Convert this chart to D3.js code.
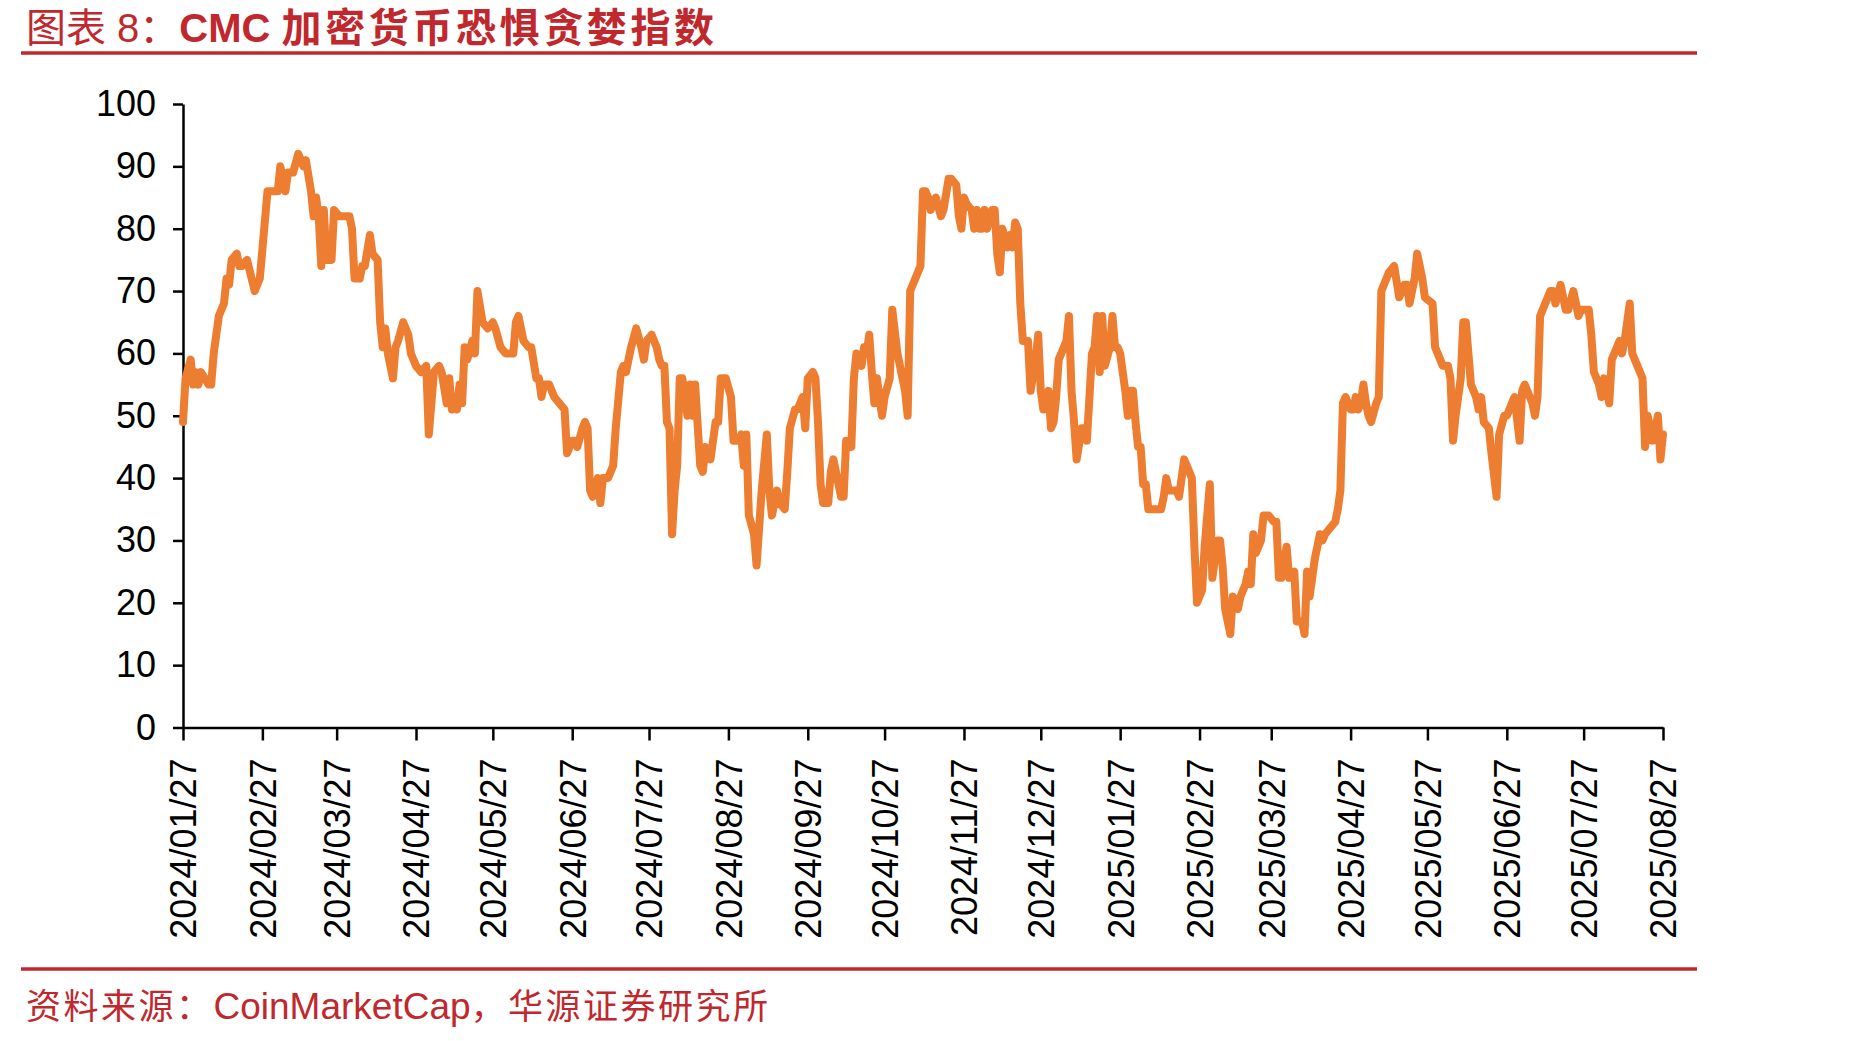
<!DOCTYPE html>
<html>
<head>
<meta charset="utf-8">
<script src="https://cdn.jsdelivr.net/npm/d3@7"></script>
<style>
  body { margin: 0; background: #fff; }
  svg { display: block; }
</style>
</head>
<body>
<div class="chart"></div>
<script>
// x-axis tick labels (every 27th of the month)
const tickLabels = ["2024/01/27","2024/02/27","2024/03/27","2024/04/27","2024/05/27","2024/06/27",
  "2024/07/27","2024/08/27","2024/09/27","2024/10/27","2024/11/27","2024/12/27","2025/01/27",
  "2025/02/27","2025/03/27","2025/04/27","2025/05/27","2025/06/27","2025/07/27","2025/08/27"];
const yTicks = [0, 10, 20, 30, 40, 50, 60, 70, 80, 90, 100];

// CMC fear & greed index: [month-day, value]
const fgi2024 = [
  ["01-27",49],["01-28",56],["01-30",59],["01-31",55],["02-01",57],["02-02",55],["02-03",57],["02-06",55],["02-07",55],["02-08",60],["02-10",66],["02-12",68],["02-13",72],["02-14",71],["02-15",75],["02-17",76],["02-18",74],["02-19",74],["02-21",75],["02-24",70],["02-26",72],["02-29",86],
  ["03-02",86],["03-04",86],["03-05",90],["03-07",86],["03-08",89],["03-10",89],["03-12",92],["03-14",90],["03-15",91],["03-17",86],["03-18",82],["03-19",85],["03-20",82],["03-21",74],["03-22",83],["03-23",75],["03-25",75],["03-26",83],["03-28",82],["03-30",82],
  ["04-01",82],["04-02",80],["04-03",72],["04-05",72],["04-06",74],["04-07",74],["04-09",79],["04-10",76],["04-12",75],["04-13",65],["04-14",61],["04-15",64],["04-16",60],["04-18",56],["04-19",61],["04-20",62],["04-22",65],["04-24",63],["04-25",60],["04-27",58],["04-29",57],
  ["05-01",58],["05-02",47],["05-04",57],["05-06",58],["05-07",57],["05-09",52],["05-10",56],["05-11",51],["05-12",53],["05-13",51],["05-14",55],["05-15",52],["05-16",61],["05-17",59],["05-19",62],["05-20",60],["05-21",70],["05-23",65],["05-25",64],["05-27",65],["05-28",64],["05-30",61],
  ["06-01",60],["06-02",60],["06-04",60],["06-05",65],["06-06",66],["06-08",62],["06-10",61],["06-11",61],["06-13",56],["06-14",56],["06-15",53],["06-16",55],["06-18",55],["06-20",53],["06-22",52],["06-24",51],["06-25",44],["06-27",46],["06-28",46],["06-29",45],
  ["07-01",48],["07-02",49],["07-03",48],["07-04",38],["07-05",37],["07-07",40],["07-08",36],["07-09",40],["07-11",40],["07-13",42],["07-14",48],["07-16",57],["07-17",58],["07-18",57],["07-20",61],["07-22",64],["07-24",61],["07-25",59],["07-26",62],["07-28",63],["07-30",61],["07-31",59],
  ["08-01",58],["08-02",58],["08-03",49],["08-04",48],["08-05",31],["08-06",38],["08-07",42],["08-08",56],["08-09",56],["08-11",50],["08-12",55],["08-13",50],["08-14",55],["08-16",42],["08-17",41],["08-18",45],["08-20",43],["08-21",46],["08-22",49],["08-23",49],["08-24",56],["08-26",56],["08-28",53],["08-29",46],["08-31",46],
  ["09-01",47],["09-02",42],["09-03",47],["09-04",34],["09-06",31],["09-07",26],["09-09",38],["09-11",47],["09-12",38],["09-13",34],["09-15",38],["09-16",36],["09-18",35],["09-19",41],["09-20",48],["09-22",51],["09-23",51],["09-25",53],["09-26",48],["09-27",56],["09-29",57],["09-30",56],
  ["10-01",49],["10-02",39],["10-03",36],["10-05",36],["10-06",41],["10-07",43],["10-08",41],["10-10",37],["10-11",37],["10-12",46],["10-14",45],["10-15",56],["10-16",60],["10-18",58],["10-19",61],["10-20",60],["10-21",63],["10-22",57],["10-23",52],["10-24",56],["10-26",50],["10-27",53],["10-29",56],["10-30",67],
  ["11-01",60],["11-02",58],["11-04",54],["11-05",50],["11-06",70],["11-08",72],["11-10",74],["11-11",86],["11-12",86],["11-13",85],["11-14",83],["11-16",85],["11-18",82],["11-19",83],["11-21",88],["11-22",88],["11-24",87],["11-25",82],["11-26",80],["11-27",85],["11-28",84],["11-30",83],
  ["12-01",80],["12-02",83],["12-03",80],["12-04",80],["12-05",83],["12-06",80],["12-08",83],["12-09",83],["12-10",76],["12-11",73],["12-12",80],["12-14",77],["12-15",79],["12-16",77],["12-17",81],["12-18",80],["12-19",68],["12-20",62],["12-22",62],["12-23",54],["12-25",59],["12-26",63],["12-27",54],["12-28",51],["12-30",54],["12-31",48]
];
const fgi2025 = [
  ["01-01",49],["01-02",53],["01-03",59],["01-05",61],["01-06",62],["01-07",66],["01-08",54],["01-09",49],["01-10",43],["01-12",48],["01-13",48],["01-14",46],["01-16",60],["01-17",61],["01-18",66],["01-19",57],["01-20",66],["01-21",58],["01-23",61],["01-24",66],["01-25",61],["01-26",61],["01-27",60],["01-29",54],["01-30",50],["01-31",54],
  ["02-01",54],["02-02",49],["02-03",45],["02-04",45],["02-05",39],["02-06",39],["02-07",35],["02-09",35],["02-11",35],["02-12",35],["02-13",37],["02-14",40],["02-15",38],["02-16",38],["02-18",38],["02-19",37],["02-21",43],["02-22",42],["02-24",40],["02-25",29],["02-26",20],["02-28",22],
  ["03-01",29],["03-03",39],["03-04",24],["03-06",30],["03-07",30],["03-08",26],["03-09",19],["03-10",17],["03-11",15],["03-12",21],["03-14",19],["03-15",21],["03-17",23],["03-18",25],["03-19",23],["03-20",31],["03-21",28],["03-23",30],["03-24",34],["03-26",34],["03-28",33],["03-29",33],["03-30",24],["03-31",24],
  ["04-02",29],["04-03",24],["04-05",25],["04-06",17],["04-08",17],["04-09",15],["04-10",25],["04-11",21],["04-13",27],["04-15",31],["04-16",30],["04-17",31],["04-19",32],["04-21",33],["04-22",35],["04-23",38],["04-24",52],["04-25",53],["04-27",51],["04-28",51],["04-29",53],["04-30",51],
  ["05-01",52],["05-02",55],["05-03",52],["05-04",50],["05-05",49],["05-07",52],["05-08",53],["05-09",70],["05-11",72],["05-12",73],["05-14",74],["05-16",69],["05-18",71],["05-19",71],["05-20",68],["05-22",72],["05-23",76],["05-25",72],["05-26",69],["05-29",68],["05-30",61],
  ["06-01",59],["06-02",58],["06-04",58],["06-05",56],["06-06",46],["06-07",50],["06-09",56],["06-10",65],["06-11",65],["06-12",60],["06-13",55],["06-15",53],["06-16",51],["06-17",53],["06-18",49],["06-20",48],["06-21",44],["06-23",37],["06-24",47],["06-26",50],["06-27",50],["06-29",52],["06-30",53],
  ["07-02",46],["07-03",54],["07-04",55],["07-05",54],["07-07",52],["07-08",50],["07-09",53],["07-10",66],["07-12",68],["07-14",70],["07-15",70],["07-16",68],["07-18",71],["07-19",69],["07-20",67],["07-21",67],["07-23",70],["07-25",66],["07-26",67],["07-29",67],["07-30",63],["07-31",57],
  ["08-02",55],["08-03",53],["08-04",56],["08-06",52],["08-07",59],["08-08",60],["08-10",62],["08-11",60],["08-12",62],["08-14",68],["08-15",60],["08-17",58],["08-19",56],["08-20",45],["08-21",50],["08-23",46],["08-25",50],["08-26",43],["08-27",47]
];

const RED = "#c0282e";
const ORANGE = "#ed7d31";
const FONT = "'Liberation Sans', Arial, sans-serif";
const MIXED = "'Liberation Sans', 'Noto Sans CJK SC', sans-serif";
const CJK = "'Noto Sans CJK SC', sans-serif";

const parse = d3.timeParse("%Y/%m/%d");
const series = fgi2024.map(d => ({ date: parse("2024/" + d[0].replace("-", "/")), value: d[1] }))
  .concat(fgi2025.map(d => ({ date: parse("2025/" + d[0].replace("-", "/")), value: d[1] })));
const tickDates = tickLabels.map(parse);

const width = 1852, height = 1041;
const margin = { top: 104, right: 189, bottom: 313.5, left: 183 };

const svg = d3.select('.chart')
  .append('svg')
  .attr('width', width)
  .attr('height', height);

// title
const title = svg.append('text')
  .attr('x', 26)
  .attr('y', 42)
  .style('font-family', MIXED)
  .style('font-size', '40px')
  .style('fill', RED);
title.append('tspan').text('图表 8：').style('font-weight', 400);
title.append('tspan').text('CMC ').style('font-weight', 700);
title.append('tspan').text('加密货币恐惧贪婪指数').style('font-weight', 700).attr('letter-spacing', 3.6);

// red rules
svg.append('line').attr('x1', 21).attr('x2', 1697).attr('y1', 53).attr('y2', 53)
  .attr('stroke', RED).attr('stroke-width', 3.5);
svg.append('line').attr('x1', 21).attr('x2', 1697).attr('y1', 969).attr('y2', 969)
  .attr('stroke', RED).attr('stroke-width', 3.5);

// source
const src = svg.append('text')
  .attr('x', 26)
  .attr('y', 1019)
  .style('font-family', CJK)
  .style('font-size', '35px')
  .style('fill', RED);
src.append('tspan').text('资料来源：').attr('letter-spacing', 2.5);
src.append('tspan').text('CoinMarketCap').style('font-family', FONT).style('font-size', '37px');
src.append('tspan').text('，华源证券研究所').attr('letter-spacing', 2.5);

const g = svg.append('g');

var xScale = d3.scaleTime()
  .domain([tickDates[0], tickDates[tickDates.length - 1]])
  .range([margin.left, width - margin.right]);
var yScale = d3.scaleLinear()
  .domain([0, 100])
  .range([height - margin.bottom, margin.top]);

// y axis
var yAxis = d3.axisLeft(yScale)
  .tickValues(yTicks)
  .tickSize(10)
  .tickSizeOuter(0)
  .tickPadding(17);
g.append('g')
  .attr('transform', `translate(${margin.left},0)`)
  .call(yAxis)
  .call(a => a.selectAll('line, path').attr('stroke', '#000').attr('stroke-width', 2.5))
  .selectAll('text')
  .style('font-family', FONT)
  .style('font-size', '36px')
  .style('fill', '#000');

// x axis
var xAxis = d3.axisBottom(xScale)
  .tickValues(tickDates)
  .tickFormat((d, i) => tickLabels[i])
  .tickSize(13)
  .tickSizeOuter(0);
g.append('g')
  .attr('transform', `translate(0,${height - margin.bottom})`)
  .call(xAxis)
  .call(a => a.selectAll('line, path').attr('stroke', '#000').attr('stroke-width', 2.5))
  .selectAll('text')
  .style('font-family', FONT)
  .style('font-size', '36px')
  .style('fill', '#000')
  .style('text-anchor', 'end')
  .attr('transform', 'rotate(-90)')
  .attr('x', -31)
  .attr('y', 0)
  .attr('dy', '0.36em');

// index line
var line = d3.line()
  .x(d => xScale(d.date))
  .y(d => yScale(d.value));
g.append('path')
  .datum(series)
  .attr('d', line)
  .attr('fill', 'none')
  .attr('stroke', ORANGE)
  .attr('stroke-width', 8)
  .attr('stroke-linejoin', 'round')
  .attr('stroke-linecap', 'round');
</script>
</body>
</html>
